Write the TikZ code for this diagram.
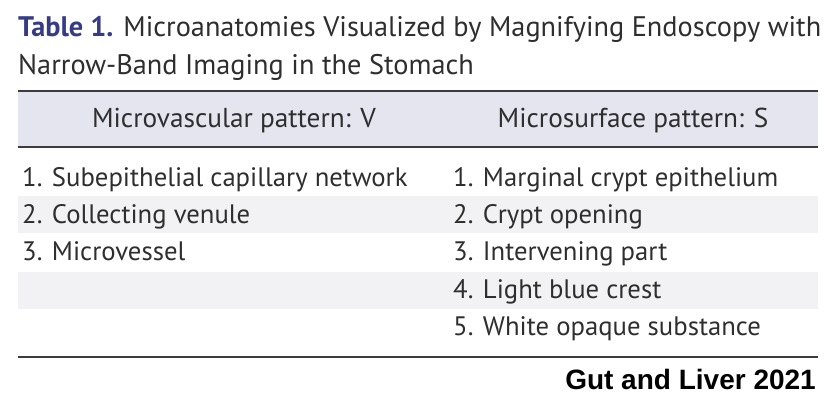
\documentclass[tikz,border=0pt]{standalone}
\usepackage{fontspec}
\usepackage{xcolor}
\usepackage{tikz}

\newfontfamily\tabfont{PT Sans}
\newfontfamily\srcfont{Liberation Sans}

\definecolor{tabblue}{HTML}{363B86}
\definecolor{textgray}{HTML}{2E2E2E}
\definecolor{rulegray}{HTML}{3C3C3C}
\definecolor{headfill}{HTML}{E5E5F0}
\definecolor{rowfill}{HTML}{F2F2F4}

\tikzset{
	cell/.style={anchor=base west, inner sep=0pt, text=textgray, font=\tabfont\fontsize{26.7}{32}\selectfont},
	headcell/.style={anchor=base, inner sep=0pt, text=textgray, font=\tabfont\fontsize{27.3}{32}\selectfont},
	titletext/.style={anchor=base west, inner sep=0pt, text=textgray, font=\tabfont\fontsize{28.3}{34}\selectfont},
	tabrule/.style={draw=rulegray, line width=1.6pt}
}

\begin{document}
\begin{tikzpicture}[x=1pt, y=-1pt]
	\useasboundingbox (0,0) rectangle (839,403);
	% title
	\node[titletext] (title1) at (18,37) {{\color{tabblue}\bfseries Table 1.} Microanatomies Visualized by Magnifying Endoscopy with};
	\node[titletext] (title2) at (18,75) {Narrow-Band Imaging in the Stomach};
	% header band and shaded rows
	\fill[headfill] (18,91) rectangle (818,147);
	\fill[rowfill] (18,196) rectangle (818,233);
	\fill[rowfill] (18,272) rectangle (818,309);
	\draw[tabrule] (18,91) -- (818,91);
	\draw[tabrule] (18,147) -- (818,147);
	\draw[tabrule] (18,357) -- (818,357);
	% header
	\node[headcell] (headV) at (234,128) {Microvascular pattern: V};
	\node[headcell] (headS) at (633,128) {Microsurface pattern: S};
	% microvascular column
	\node[cell] (v1) at (22,187) {1. Subepithelial capillary network};
	\node[cell] (v2) at (22,224) {2. Collecting venule};
	\node[cell] (v3) at (22,261) {3. Microvessel};
	% microsurface column
	\node[cell] (s1) at (453,187) {1. Marginal crypt epithelium};
	\node[cell] (s2) at (453,224) {2. Crypt opening};
	\node[cell] (s3) at (453,261) {3. Intervening part};
	\node[cell] (s4) at (453,299) {4. Light blue crest};
	\node[cell] (s5) at (453,336) {5. White opaque substance};
	% source
	\node[anchor=base east, inner sep=0pt, font=\srcfont\bfseries\fontsize{28}{32}\selectfont] (source) at (816,390) {Gut and Liver 2021};
\end{tikzpicture}
\end{document}
